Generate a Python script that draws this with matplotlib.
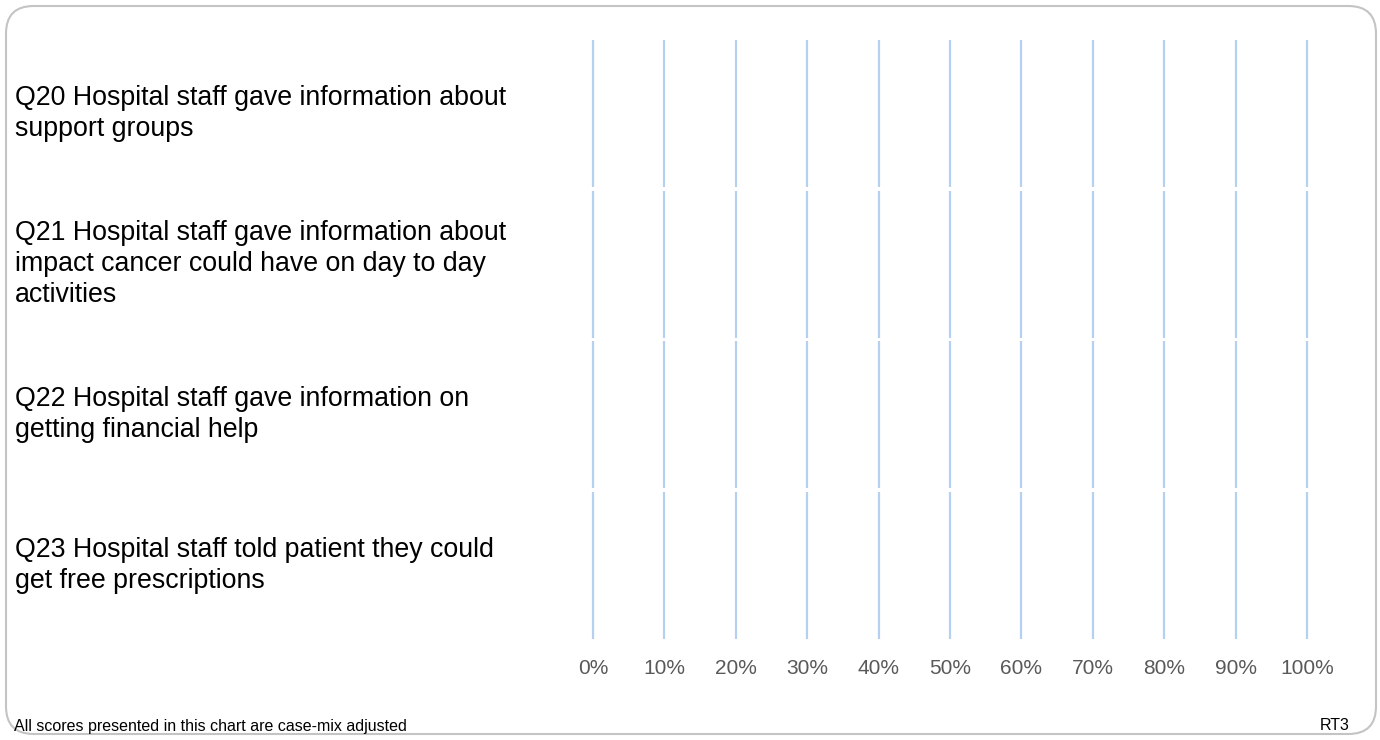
import matplotlib.pyplot as plt
from matplotlib.patches import FancyBboxPatch
from matplotlib.transforms import blended_transform_factory

plt.rcParams['font.family'] = ['Liberation Sans', 'DejaVu Sans']

questions = [
    "Q20 Hospital staff gave information about\nsupport groups",
    "Q21 Hospital staff gave information about\nimpact cancer could have on day to day\nactivities",
    "Q22 Hospital staff gave information on\ngetting financial help",
    "Q23 Hospital staff told patient they could\nget free prescriptions",
]
ticks = [0, 10, 20, 30, 40, 50, 60, 70, 80, 90, 100]
tick_labels = [f"{t}%" for t in ticks]
footnote = "All scores presented in this chart are case-mix adjusted"
chart_id = "RT3"

fig = plt.figure(figsize=(13.8, 7.4), dpi=100)

# rounded outer frame
frame = FancyBboxPatch((6 / 1380, 6 / 740), 1370 / 1380, 728 / 740,
                       boxstyle="round,pad=0,rounding_size=0.02",
                       transform=fig.transFigure, facecolor='none',
                       edgecolor='#c4c4c4', linewidth=1.5, mutation_aspect=1380 / 740)
fig.patches.append(frame)

ax = fig.add_axes([593 / 1380, 1 - 641 / 740, 714 / 1380, 603 / 740])
ax.set_xlim(0, 100)
ax.set_ylim(len(questions) - 0.5, -0.5)
ax.patch.set_alpha(0)

# gridlines broken at each row boundary
gap = 0.012
for i in range(len(questions)):
    ax.vlines(ticks, i - 0.5 + gap, i + 0.5 - gap, color='#b6d0f0',
              linewidth=1.6, clip_on=False)

for s in ax.spines.values():
    s.set_visible(False)
ax.set_yticks([])
ax.set_xticks(ticks)
ax.set_xticklabels(tick_labels, fontsize=15, color='#595959')
ax.tick_params(axis='x', length=0, pad=13)

# question labels, left aligned, centred on their row
trans = blended_transform_factory(fig.transFigure, ax.transData)
for i, q in enumerate(questions):
    ax.text(15 / 1380, i, q, transform=trans, ha='left', va='center',
            fontsize=19.3, color='black', linespacing=1.25, clip_on=False)

fig.text(14 / 1380, 1 - 726 / 740, footnote, ha='left', va='center', fontsize=11.5, color='black')
fig.text(1350 / 1380, 1 - 726 / 740, chart_id, ha='right', va='center', fontsize=11.5, color='black')

fig.savefig('out.png', dpi=100)
